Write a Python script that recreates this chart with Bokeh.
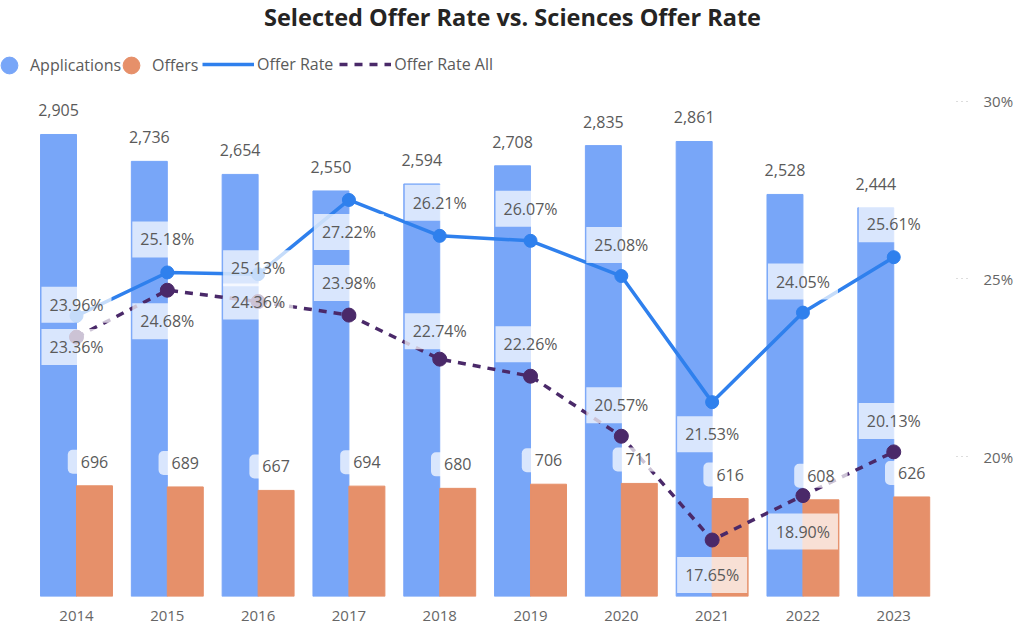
import numpy as np
from bokeh.plotting import figure
from bokeh.models import (Range1d, LinearAxis, FixedTicker, PrintfTickFormatter,
                          ColumnDataSource, Legend, LegendItem, Label)
from bokeh.core.properties import value
from bokeh.embed import file_html
from bokeh.resources import INLINE

# ---- data -------------------------------------------------------------
years = ["2014", "2015", "2016", "2017", "2018", "2019", "2020", "2021", "2022", "2023"]
applications = [2905, 2736, 2654, 2550, 2594, 2708, 2835, 2861, 2528, 2444]
offers = [696, 689, 667, 694, 680, 706, 711, 616, 608, 626]
offer_rate = [23.96, 25.18, 25.13, 27.22, 26.21, 26.07, 25.08, 21.53, 24.05, 25.61]
offer_rate_all = [23.36, 24.68, 24.36, 23.98, 22.74, 22.26, 20.57, 17.65, 18.90, 20.13]

# label placement: pixels above (+) or below (-) each point
rate_label_lift = [11, 33, 6, -32, 33, 32, 31, -32, 31, 33]
all_label_lift = [-10, -31, 0, 32, 28, 32, 31, -35, -36, 31]

FONT = "Open Sans"
BLUE = "#78A6F8"
ORANGE = "#E6906A"
LINE_BLUE = "#2F80ED"
PURPLE = "#4A2969"
TXT = "#5a5a5a"

idx = np.arange(len(years))
bw = 0.396

src = ColumnDataSource(dict(
    x=idx,
    app_x=idx - bw / 2,
    off_x=idx + bw / 2,
    apps=applications,
    offers=offers,
    rate=offer_rate,
    rate_all=offer_rate_all,
    app_txt=[f"{v:,}" for v in applications],
    off_txt=[f"{v:,}" for v in offers],
    rate_txt=[f"{v:.2f}%" for v in offer_rate],
    all_txt=[f"{v:.2f}%" for v in offer_rate_all],
    rate_dy=[-d for d in rate_label_lift],
    all_dy=[-d for d in all_label_lift],
))

p = figure(width=1024, height=638,
           x_range=Range1d(-0.837, 9.68), y_range=Range1d(0, 3747.5),
           output_backend="svg", toolbar_location=None,
           y_axis_location=None,
           min_border_left=0, min_border_top=0,
           min_border_right=69, min_border_bottom=42)
p.outline_line_color = None
p.grid.visible = False
p.background_fill_color = "white"
p.border_fill_color = "white"
p.extra_y_ranges = {"rate": Range1d(16.06, 32.834)}

# bars
p.vbar(x="app_x", top="apps", bottom=0, width=bw, color=BLUE, source=src)
p.vbar(x="off_x", top="offers", bottom=0, width=bw, color=ORANGE, source=src)

# rate lines
rate_line = p.line(x="x", y="rate", y_range_name="rate", line_color=LINE_BLUE,
                   line_width=3.5, source=src)
p.scatter(x="x", y="rate", y_range_name="rate", size=13, color=LINE_BLUE, source=src)
all_line = p.line(x="x", y="rate_all", y_range_name="rate", line_color=PURPLE,
                  line_width=3.5, line_dash="8 7", source=src)
p.scatter(x="x", y="rate_all", y_range_name="rate", size=14, color=PURPLE, source=src)

# value labels
common = dict(text_align="center", text_baseline="middle", text_font=value(FONT),
              text_font_size="16px", text_color=TXT, source=src)
p.text(x="app_x", y="apps", text="app_txt", y_offset=-24, **common)
p.text(x="off_x", y="offers", text="off_txt", y_offset=-24,
       background_fill_color="white", background_fill_alpha=0.72,
       padding=(13, 6), border_radius=5, **common)
p.text(x="x", y="rate", text="rate_txt", y_offset="rate_dy", y_range_name="rate",
       background_fill_color="white", background_fill_alpha=0.72,
       padding=(8, 7), **common)
p.text(x="x", y="rate_all", text="all_txt", y_offset="all_dy", y_range_name="rate",
       background_fill_color="white", background_fill_alpha=0.72,
       padding=(8, 7), **common)

# axes
p.xaxis.ticker = FixedTicker(ticks=list(idx))
p.xaxis.major_label_overrides = {int(i): y for i, y in zip(idx, years)}
p.xaxis.axis_line_color = None
p.xaxis.major_tick_line_color = None
p.xaxis.minor_tick_line_color = None
p.xaxis.major_label_standoff = 8
p.xaxis.major_label_text_font = FONT
p.xaxis.major_label_text_font_size = "15px"
p.xaxis.major_label_text_color = "#666666"

raxis = LinearAxis(y_range_name="rate", ticker=FixedTicker(ticks=[20, 25, 30]),
                   formatter=PrintfTickFormatter(format="%d%%"))
raxis.axis_line_color = None
raxis.major_tick_out = 12
raxis.major_tick_in = 0
raxis.major_tick_line_color = "#bbbbbb"
raxis.major_tick_line_dash = "1 4"
raxis.minor_tick_line_color = None
raxis.major_label_standoff = 16
raxis.major_label_text_font = FONT
raxis.major_label_text_font_size = "15px"
raxis.major_label_text_color = "#666666"
p.add_layout(raxis, "right")

# legend keys: circle markers for the bar series (hidden in the plot itself)
app_key = p.scatter(x="x", y="apps", size=17, color=BLUE, source=src, visible=False)
off_key = p.scatter(x="x", y="offers", size=17, color=ORANGE, source=src, visible=False)
leg_style = dict(orientation="horizontal", padding=0, margin=0, border_line_color=None,
                 background_fill_alpha=0, label_text_font=FONT,
                 label_text_font_size="16px", label_text_color=TXT,
                 inactive_fill_alpha=0)
# marker keys are drawn at 0.4 of the key box, so the box is enlarged
marker_key = dict(glyph_width=42, glyph_height=42, label_standoff=0, **leg_style)
leg_app = Legend(items=[LegendItem(label="Applications", renderers=[app_key])],
                 location=(-12, 510), **marker_key)
leg_off = Legend(items=[LegendItem(label="Offers", renderers=[off_key])],
                 location=(110, 510), **marker_key)
leg_lines = Legend(items=[LegendItem(label="Offer Rate", renderers=[rate_line]),
                          LegendItem(label="Offer Rate All", renderers=[all_line])],
                   location=(202, 521), glyph_width=52, glyph_height=20,
                   label_standoff=3, spacing=6, **leg_style)
p.add_layout(leg_app)
p.add_layout(leg_off)
p.add_layout(leg_lines)

p.add_layout(Label(x=512, y=580, x_units="screen", y_units="screen",
                   text="Selected Offer Rate vs. Sciences Offer Rate",
                   text_align="center", text_baseline="middle",
                   text_font=FONT, text_font_size="23.5px", text_font_style="bold",
                   text_color="#252423"))

open("out.html", "w").write(file_html(p, INLINE))
